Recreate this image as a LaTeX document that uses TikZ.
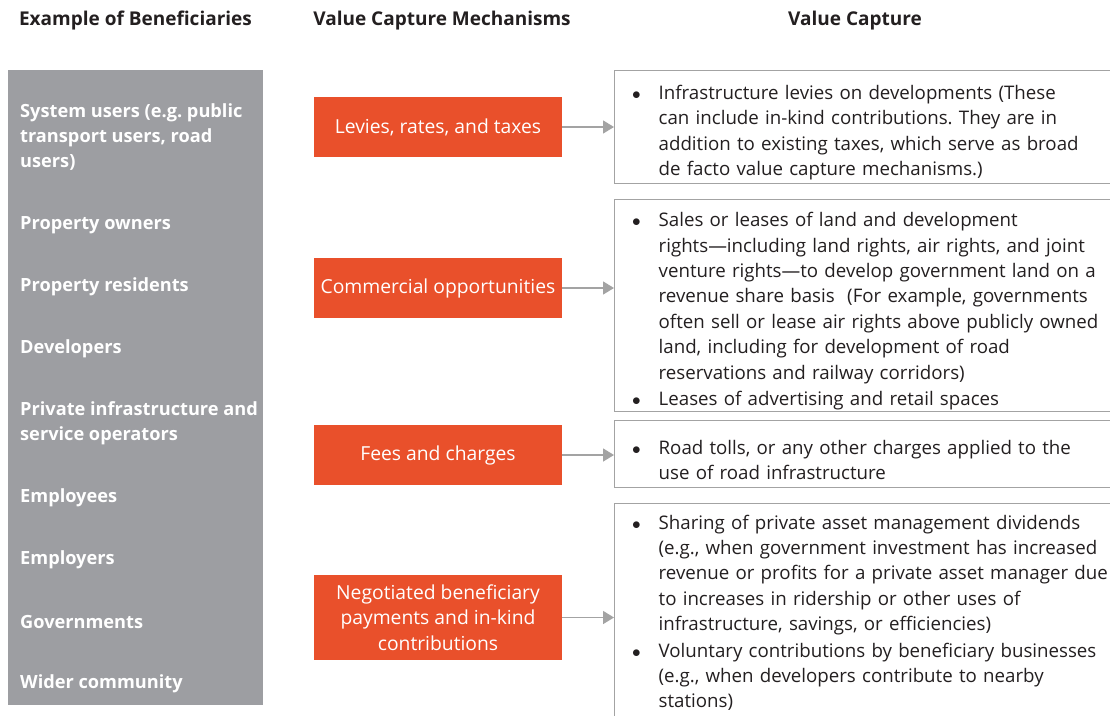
\documentclass[tikz,border=0pt]{standalone}
\usepackage{fontspec}
\setmainfont{Open Sans}
\usepackage{enumitem}
\usetikzlibrary{arrows.meta,positioning}
\usepackage{xcolor}
\definecolor{panelgray}{HTML}{9D9EA2}
\definecolor{mechorange}{HTML}{E9502B}
\definecolor{linegray}{HTML}{A3A3A3}
\definecolor{headink}{HTML}{231F20}

\tikzset{
  head/.style={font=\bfseries\fontsize{19}{22}\selectfont, text=headink},
  bentext/.style={anchor=west, align=left, text=white, inner sep=0pt,
    font=\bfseries\fontsize{18.2}{25}\selectfont},
  mech/.style={fill=mechorange, text=white, minimum width=248pt, align=center,
    inner sep=0pt, font=\fontsize{19.3}{25.4}\selectfont},
  valbox/.style={draw=linegray, line width=1.3pt, anchor=north west, text width=540pt,
    inner xsep=14pt, inner ysep=0pt, text=headink, font=\fontsize{18.7}{25.4}\selectfont},
  flow/.style={draw=linegray, line width=1.5pt, -{Triangle[length=11pt,width=13pt]}}
}
\newcommand{\vlist}[1]{\begin{itemize}[label=$\bullet$,leftmargin=30pt,labelsep=18pt,itemsep=1pt,topsep=0pt,parsep=0pt,partopsep=0pt]#1\end{itemize}}
\frenchspacing

\begin{document}
\begin{tikzpicture}[x=1pt,y=-1pt]
  \useasboundingbox (0,0) rectangle (1110,715);

  % column heads
  \node[head] (h1) at (135.5,21) {Example of Beneficiaries};
  \node[head] (h2) at (442,21)   {Value Capture Mechanisms};
  \node[head] (h3) at (855,21)   {Value Capture};

  % beneficiaries
  \node[fill=panelgray, minimum width=255pt, minimum height=635pt, anchor=north west, inner sep=0pt]
        (panel) at (8,70) {};
  \node[bentext] (b1) at (20,137)   {System users (e.g. public\\transport users, road\\users)};
  \node[bentext] (b2) at (20,225)   {Property owners};
  \node[bentext] (b3) at (20,287)   {Property residents};
  \node[bentext] (b4) at (20,349)   {Developers};
  \node[bentext] (b5) at (20,423.5) {Private infrastructure and\\service operators};
  \node[bentext] (b6) at (20,498)   {Employees};
  \node[bentext] (b7) at (20,560)   {Employers};
  \node[bentext] (b8) at (20,622)   {Governments};
  \node[bentext] (b9) at (20,684)   {Wider community};

  % mechanisms
  \node[mech, minimum height=60pt] (m1) at (438,127)   {Levies, rates, and taxes};
  \node[mech, minimum height=60pt] (m2) at (438,288)   {Commercial opportunities};
  \node[mech, minimum height=60pt] (m3) at (438,455)   {Fees and charges};
  \node[mech, minimum height=85pt] (m4) at (438,617.5) {Negotiated beneficiary\\payments and in-kind\\contributions};

  % value capture
  \node[valbox, minimum height=113pt] (v1) at (614,70) {\vlist{
    \item Infrastructure levies on developments (These\\can include in-kind contributions. They are in\\addition to existing taxes, which serve as broad\\de facto value capture mechanisms.)}};
  \node[valbox, minimum height=212pt] (v2) at (614,199) {\vlist{
    \item Sales or leases of land and development\\rights---including land rights, air rights, and joint\\venture rights---to develop government land on a\\revenue share basis~ (For example, governments\\often sell or lease air rights above publicly owned\\land, including for development of road\\reservations and railway corridors)
    \item Leases of advertising and retail spaces}};
  \node[valbox, minimum height=67pt] (v3) at (614,420) {\vlist{
    \item Road tolls, or any other charges applied to the\\use of road infrastructure}};
  \node[valbox] (v4) at (614,503) {\vlist{
    \item Sharing of private asset management dividends\\(e.g., when government investment has increased\\revenue or profits for a private asset manager due\\to increases in ridership or other uses of\\infrastructure, savings, or efficiencies)
    \item Voluntary contributions by beneficiary businesses\\(e.g., when developers contribute to nearby\\stations)}\par\vspace{24pt}};

  \draw[flow] (m1.east) -- (m1.east -| v1.west);
  \draw[flow] (m2.east) -- (m2.east -| v2.west);
  \draw[flow] (m3.east) -- (m3.east -| v3.west);
  \draw[flow] (m4.east) -- (m4.east -| v4.west);
\end{tikzpicture}
\end{document}
